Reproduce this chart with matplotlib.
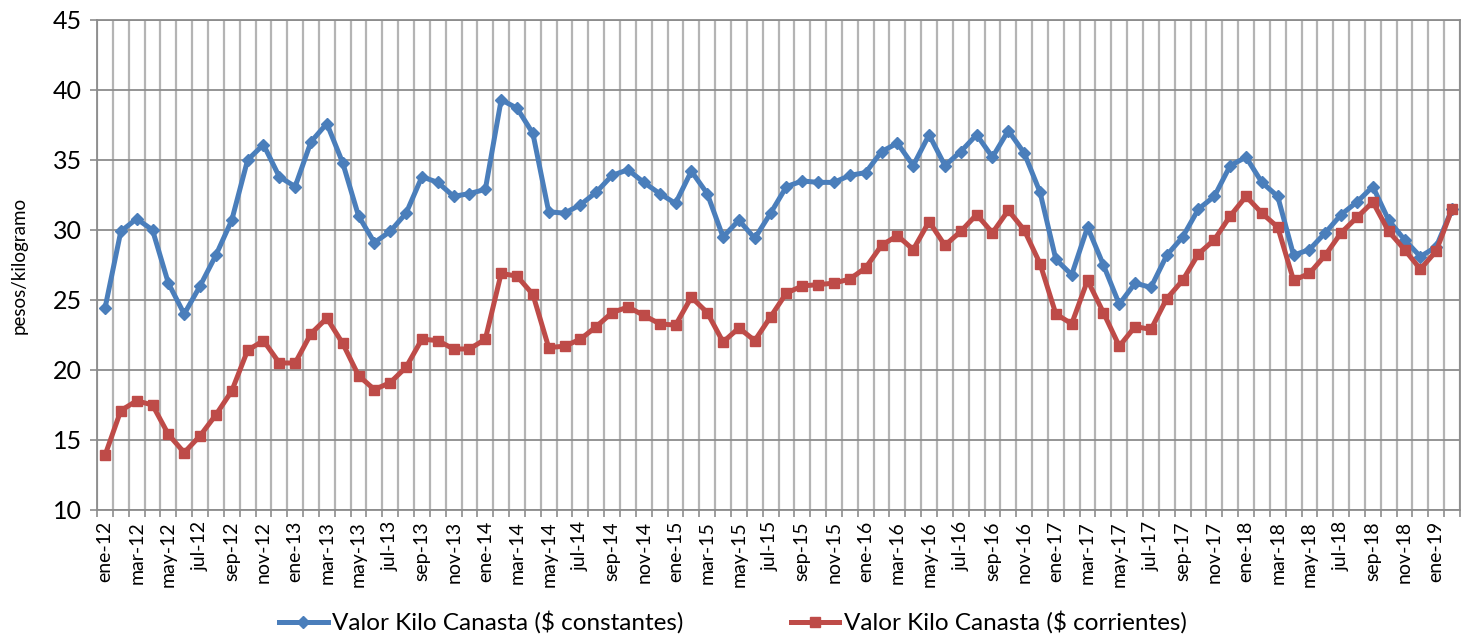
# Valor kilo canasta: pesos constantes vs corrientes, ene-12 a feb-19
import numpy as np
import matplotlib.pyplot as plt
from matplotlib.ticker import FixedLocator

plt.rcParams['font.family'] = ['Lato', 'DejaVu Sans']

meses = ['ene', 'feb', 'mar', 'abr', 'may', 'jun', 'jul', 'ago', 'sep', 'oct', 'nov', 'dic']
periodos = [f'{m}-{a}' for a in range(12, 20) for m in meses][:86]

constantes = [24.4, 29.9, 30.8, 30.0, 26.2, 24.0, 26.0, 28.2, 30.7, 35.0,
              36.1, 33.8, 33.1, 36.3, 37.6, 34.8, 31.0, 29.1, 29.9, 31.2,
              33.8, 33.4, 32.4, 32.6, 32.9, 39.3, 38.7, 36.9, 31.3, 31.2,
              31.8, 32.7, 33.9, 34.3, 33.4, 32.6, 31.9, 34.2, 32.6, 29.5,
              30.7, 29.4, 31.2, 33.1, 33.5, 33.4, 33.4, 33.9, 34.1, 35.6,
              36.2, 34.6, 36.8, 34.6, 35.6, 36.8, 35.2, 37.1, 35.5, 32.7,
              27.9, 26.8, 30.2, 27.5, 24.7, 26.2, 25.9, 28.2, 29.5, 31.5,
              32.4, 34.6, 35.2, 33.4, 32.4, 28.2, 28.6, 29.8, 31.1, 32.0,
              33.1, 30.7, 29.3, 28.1, 28.8, 31.5]

corrientes = [13.9, 17.1, 17.8, 17.5, 15.4, 14.1, 15.3, 16.8, 18.5, 21.4,
              22.1, 20.5, 20.5, 22.6, 23.7, 21.9, 19.6, 18.6, 19.1, 20.2,
              22.2, 22.1, 21.5, 21.5, 22.2, 26.9, 26.7, 25.4, 21.6, 21.7,
              22.2, 23.1, 24.1, 24.5, 23.9, 23.3, 23.2, 25.2, 24.1, 22.0,
              23.0, 22.1, 23.8, 25.5, 26.0, 26.1, 26.2, 26.5, 27.3, 28.9,
              29.6, 28.6, 30.6, 28.9, 29.9, 31.1, 29.8, 31.4, 30.0, 27.6,
              24.0, 23.3, 26.4, 24.1, 21.7, 23.1, 22.9, 25.1, 26.4, 28.3,
              29.3, 31.0, 32.4, 31.2, 30.2, 26.4, 26.9, 28.2, 29.8, 30.9,
              32.0, 29.9, 28.6, 27.2, 28.5, 31.5]

azul = '#4a7ebb'
rojo = '#be4b48'

fig = plt.figure(figsize=(14.66, 6.34), dpi=100)
ax = fig.add_axes([0.0662, 0.1956, 0.9297, 0.7729])

x = np.arange(len(periodos))
ax.plot(x, constantes, color=azul, lw=3.6, marker='D', ms=6.5,
        label='Valor Kilo Canasta ($ constantes)', zorder=3)
ax.plot(x, corrientes, color=rojo, lw=3.6, marker='s', ms=6.5,
        label='Valor Kilo Canasta ($ corrientes)', zorder=3)

ax.set_xlim(-0.5, len(periodos) - 0.5)
ax.set_ylim(10, 45)
ax.set_yticks(range(10, 46, 5))

# etiquetas cada dos meses, marcas entre categorias
ax.set_xticks(x[::2])
ax.set_xticklabels(periodos[::2], rotation=90, fontsize=14)
ax.xaxis.set_minor_locator(FixedLocator(np.arange(-0.5, len(periodos), 1)))
ax.tick_params(axis='x', which='major', length=0, pad=8)
ax.tick_params(axis='x', which='minor', length=5, color='#8c8c8c', width=1.2)
ax.tick_params(axis='y', length=5, color='#8c8c8c', width=1.2, labelsize=18, pad=6)

ax.grid(axis='y', which='major', color='#8c8c8c', lw=1.3)
ax.grid(axis='x', which='minor', color='#b4b4b4', lw=1.6)
ax.grid(axis='x', which='major', visible=False)
ax.set_axisbelow(True)
for s in ax.spines.values():
    s.set_color('#8c8c8c')
    s.set_linewidth(1.3)

ax.set_ylabel('pesos/kilogramo', fontsize=13.5, labelpad=18)

fig.legend(loc='center', bbox_to_anchor=(0.5, 0.018), ncol=2, frameon=False,
           fontsize=17.5, handlelength=2.0, columnspacing=4.4, handletextpad=0.2)

fig.savefig('out.png', dpi=100)
